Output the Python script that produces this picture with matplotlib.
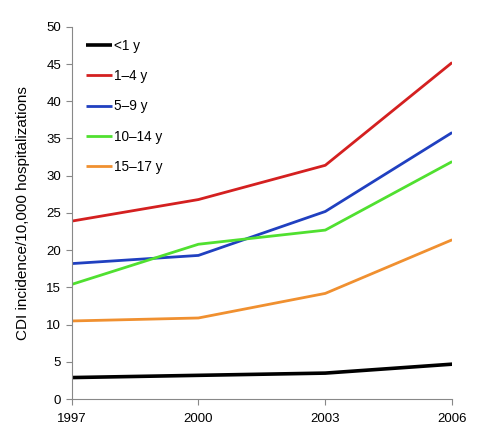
import matplotlib.pyplot as plt

plt.rcParams['font.family'] = ['Liberation Sans', 'DejaVu Sans']

years = [1997, 2000, 2003, 2006]
labels = ['<1 y', '1\u20134 y', '5\u20139 y', '10\u201314 y', '15\u201317 y']
age_lt1 = [2.9, 3.2, 3.5, 4.7]
age_1_4 = [23.9, 26.8, 31.4, 45.2]
age_5_9 = [18.2, 19.3, 25.2, 35.8]
age_10_14 = [15.4, 20.8, 22.7, 31.9]
age_15_17 = [10.5, 10.9, 14.2, 21.4]
colors = ['#000000', '#d42020', '#2040c0', '#50e030', '#f09030']

fig = plt.figure(figsize=(4.8, 4.46), dpi=100)
ax = fig.add_axes([0.149, 0.105, 0.793, 0.835])

series = [age_lt1, age_1_4, age_5_9, age_10_14, age_15_17]
for vals, lab, c in zip(series, labels, colors):
    lw = 2.6 if c == '#000000' else 2.0
    ax.plot(years, vals, color=c, lw=lw, label=lab, solid_capstyle='butt')

ax.set_xlim(1997, 2006)
ax.set_ylim(0, 50)
ax.set_xticks(years)
ax.set_yticks(range(0, 51, 5))
for s in ['top', 'right']:
    ax.spines[s].set_visible(False)
for s in ['left', 'bottom']:
    ax.spines[s].set_color('#888888')
ax.tick_params(colors='#888888', labelcolor='black', labelsize=9.5, length=4, width=0.8)
ax.tick_params(axis='x', pad=6)
ax.set_ylabel('CDI incidence/10,000 hospitalizations', fontsize=11, labelpad=12)

ax.legend(loc='upper left', frameon=False, fontsize=9.8, handlelength=1.9,
          handletextpad=0.15, labelspacing=1.19, bbox_to_anchor=(0.006, 1.0),
          borderaxespad=0.5)

fig.savefig('out.png', dpi=100)
